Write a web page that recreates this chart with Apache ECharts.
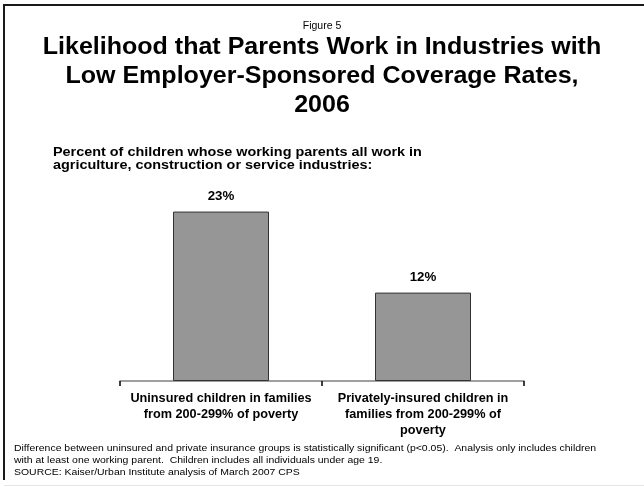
<!DOCTYPE html>
<html>
<head>
<meta charset="utf-8">
<script src="https://cdn.jsdelivr.net/npm/echarts@6/dist/echarts.min.js"></script>
<style>
  html, body { margin: 0; padding: 0; background: #fff; }
  #chart { width: 644px; height: 487px; }
</style>
</head>
<body>
<div id="chart"></div>
<script>
// Groups compared
const categories = [
  'Uninsured children in families\nfrom 200-299% of poverty',
  'Privately-insured children in\nfamilies from 200-299% of\npoverty'
];
// Percent of children whose working parents all work in low-coverage industries
const shares = [23, 12];

const titleLines = [
  'Likelihood that Parents Work in Industries with',
  'Low Employer-Sponsored Coverage Rates,',
  '2006'
];
const subtitleLines = [
  'Percent of children whose working parents all work in',
  'agriculture, construction or service industries:'
];
const noteLines = [
  'Difference between uninsured and private insurance groups is statistically significant (p<0.05).  Analysis only includes children',
  'with at least one working parent.  Children includes all individuals under age 19.',
  'SOURCE: Kaiser/Urban Institute analysis of March 2007 CPS'
];

const FONT = '"Liberation Sans", Arial, Helvetica, sans-serif';
const chart = echarts.init(document.getElementById('chart'), null, { renderer: 'canvas' });

chart.setOption({
  backgroundColor: '#ffffff',
  animation: false,
  title: [
    { text: 'Figure 5', left: 'center', top: 21, padding: 0,
      textStyle: { fontFamily: FONT, fontSize: 10.5, fontWeight: 'normal', color: '#000' } }
  ],
  grid: { left: 120, right: 120, top: 160, bottom: 106, containLabel: false },
  xAxis: {
    type: 'category',
    data: categories,
    axisLine: { show: true, lineStyle: { color: '#808080', width: 1.5 } },
    axisTick: { show: true, length: 5, inside: false, lineStyle: { color: '#000', width: 1.5 } },
    axisLabel: {
      interval: 0, margin: 9,
      fontFamily: FONT, fontSize: 12.7, fontWeight: 'bold', color: '#000', lineHeight: 16.3
    }
  },
  yAxis: {
    type: 'value', min: 0, max: 30, show: false,
    splitLine: { show: false }
  },
  series: [{
    type: 'bar',
    data: shares,
    barWidth: 96,
    itemStyle: { color: '#969696', borderColor: '#333333', borderWidth: 1 },
    label: {
      show: true, position: 'top', distance: 9,
      formatter: p => p.value + '%',
      fontFamily: FONT, fontSize: 13.3, fontWeight: 'bold', color: '#000'
    }
  }],
  graphic: [
    // main heading, lettering slightly widened
    { type: 'text', x: 322, y: 33.5, scaleX: 1.088, scaleY: 1,
      style: { text: titleLines.join('\n'), font: 'bold 23px ' + FONT, fill: '#000',
               textAlign: 'center', lineHeight: 29 } },
    // subtitle above the bars
    { type: 'text', x: 53, y: 146, scaleX: 1.2, scaleY: 1,
      style: { text: subtitleLines.join('\n'), font: 'bold 12px ' + FONT, fill: '#000', lineHeight: 13.3 } },
    // footnote and source
    { type: 'text', x: 14, y: 442.5, scaleX: 1.1, scaleY: 1,
      style: { text: noteLines.join('\n'), font: '9.5px ' + FONT, fill: '#000', lineHeight: 12 } },
    // frame
    { type: 'line', shape: { x1: 4, y1: 5, x2: 644, y2: 5 }, style: { stroke: '#1a1a1a', lineWidth: 2 } },
    { type: 'line', shape: { x1: 4, y1: 4, x2: 4, y2: 480 }, style: { stroke: '#1a1a1a', lineWidth: 2 } },
    { type: 'line', shape: { x1: 4, y1: 485.5, x2: 644, y2: 485.5 }, style: { stroke: '#e6e6e6', lineWidth: 1 } }
  ]
});
</script>
</body>
</html>
